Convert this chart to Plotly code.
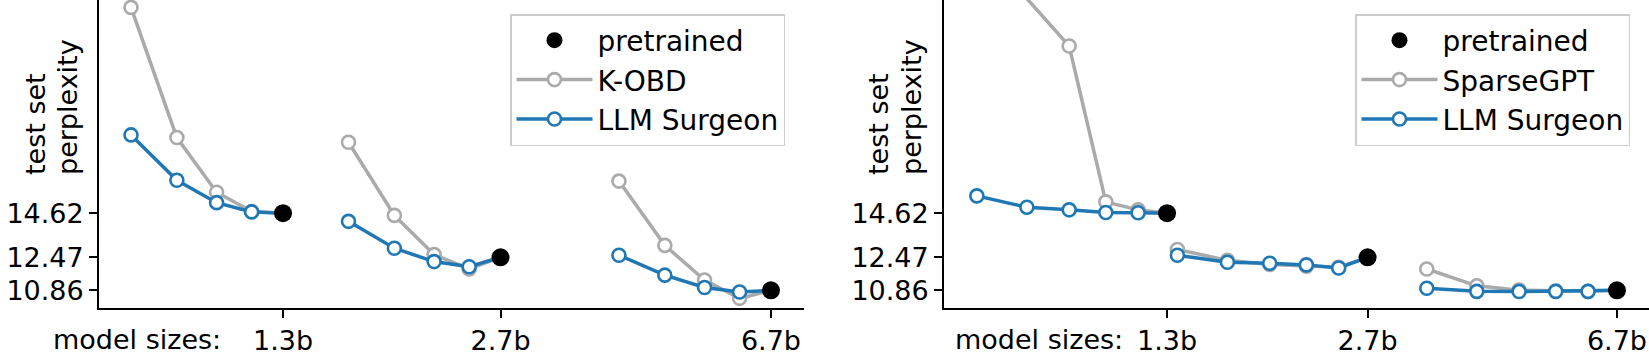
import plotly.graph_objects as go

model_sizes = [1.3, 2.7, 6.7]
size_labels = ["1.3b", "2.7b", "6.7b"]
pretrained_ppl = [14.62, 12.47, 10.86]
ytick_vals = [10.86, 12.47, 14.62]

# left panel: K-OBD vs LLM Surgeon, fraction of model kept
left_fracs = [0.6, 0.7, 0.8, 0.9]
kobd_ppl = [
    [24.64, 18.30, 15.64, 14.70],
    [18.07, 14.51, 12.60, 11.90],
    [16.18, 13.05, 11.36, 10.47],
]
surgeon_left_ppl = [
    [18.43, 16.22, 15.13, 14.68],
    [14.22, 12.91, 12.26, 12.01],
    [12.57, 11.60, 11.00, 10.78],
]

# right panel: SparseGPT vs LLM Surgeon
right_fracs = [0.5, 0.6, 0.7, 0.8, 0.9]
sparsegpt_ppl = [
    [27.8, None, 22.76, 15.17, 14.78],
    [12.85, 12.32, 12.12, 12.03, 11.98],
    [11.90, 11.08, 10.87, 10.82, 10.81],
]
surgeon_right_ppl = [
    [15.46, 14.91, 14.78, 14.65, 14.64],
    [12.57, 12.23, 12.18, 12.10, 11.95],
    [10.96, 10.81, 10.80, 10.81, 10.81],
]

GRAY = "#aaaaaa"
BLUE = "#1f77b4"
FONT = "DejaVu Sans"
FS = 27


def group_xy(fracs, vals, size, pre):
    xs = [size * f for f, v in zip(fracs, vals) if v is not None] + [size]
    ys = [v for v in vals if v is not None] + [pre]
    return xs, ys


fig = go.Figure()

panels = [
    ("x", "y", "legend", left_fracs, kobd_ppl, "K-OBD", surgeon_left_ppl),
    ("x2", "y2", "legend2", right_fracs, sparsegpt_ppl, "SparseGPT", surgeon_right_ppl),
]

for xa, ya, leg, fracs, base_vals, base_name, surg_vals in panels:
    for name, color, vals, rank in [(base_name, GRAY, base_vals, 2),
                                    ("LLM Surgeon", BLUE, surg_vals, 3)]:
        for i, size in enumerate(model_sizes):
            xs, ys = group_xy(fracs, vals[i], size, pretrained_ppl[i])
            fig.add_trace(go.Scatter(
                x=xs, y=ys, mode="lines+markers", name=name,
                line=dict(color=color, width=3.5),
                marker=dict(size=13, color="white", line=dict(color=color, width=2.6)),
                xaxis=xa, yaxis=ya, legend=leg, legendgroup=name + leg,
                showlegend=(i == 0), legendrank=rank,
            ))
    fig.add_trace(go.Scatter(
        x=model_sizes, y=pretrained_ppl, mode="markers", name="pretrained",
        marker=dict(size=18, color="black"),
        xaxis=xa, yaxis=ya, legend=leg, legendrank=1,
    ))

axis_style = dict(
    showgrid=False, zeroline=False, showline=True, linecolor="black",
    linewidth=1.8, ticks="outside", ticklen=8, tickwidth=1.5, tickcolor="black",
    tickfont=dict(size=FS, color="black", family=FONT), automargin=False,
)

W, H = 1649, 355
legend_style = dict(xanchor="left", yanchor="top", itemwidth=76,
                    bgcolor="rgba(255,255,255,0.8)", bordercolor="#cccccc",
                    borderwidth=1.5, font=dict(size=28, family=FONT), traceorder="normal")
fig.update_layout(
    width=W, height=H,
    margin=dict(l=0, r=0, t=0, b=47),
    paper_bgcolor="white", plot_bgcolor="white",
    font=dict(family=FONT, size=FS, color="black"),
    xaxis=dict(domain=[99 / W, 804 / W], type="log", range=[-0.1546, 0.8743],
               tickvals=model_sizes, ticktext=size_labels, anchor="y", **axis_style),
    yaxis=dict(range=[10, 25], tickvals=ytick_vals,
               ticktext=[f"{v:.2f}" for v in ytick_vals], anchor="x", **axis_style),
    xaxis2=dict(domain=[944 / W, 1.0], type="log", range=[-0.2391, 0.8768],
                tickvals=model_sizes, ticktext=size_labels, anchor="y2", **axis_style),
    yaxis2=dict(range=[10, 25], tickvals=ytick_vals,
                ticktext=[f"{v:.2f}" for v in ytick_vals], anchor="x2", **axis_style),
    legend=dict(x=510 / W, y=1 - 14 / 308, **legend_style),
    legend2=dict(x=1355 / W, y=1 - 14 / 308, **legend_style),
)

# y titles (two lines, left aligned) and the "model sizes:" prefix
for x1, x2, xr in [(35, 67, 223), (878, 911, 1125)]:
    for xc, txt in [(x1, "test set"), (x2, "perplexity")]:
        fig.add_annotation(text=txt, textangle=-90, x=xc / W, y=(308 - 177) / 308,
                           xref="paper", yref="paper", xanchor="center", yanchor="bottom",
                           showarrow=False, font=dict(size=FS, family=FONT, color="black"))
    fig.add_annotation(text="model sizes:", x=xr / W, y=-31 / 308,
                       xref="paper", yref="paper", xanchor="right", yanchor="middle",
                       showarrow=False, font=dict(size=FS, family=FONT, color="black"))

fig.write_html("out.html", config={"displayModeBar": False},
               post_script="document.body.style.margin='0px';")
